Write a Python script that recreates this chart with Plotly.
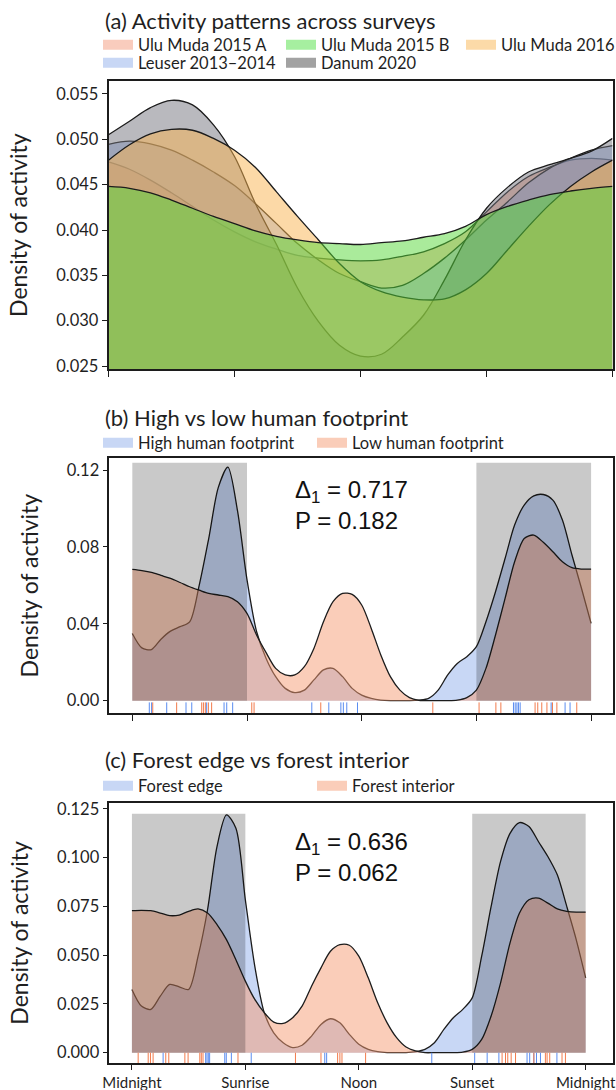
import plotly.graph_objects as go

# ---------------- data: panel (a) -----------------
HOURS_A = [0, 1, 2, 3, 4, 5, 6, 7, 8, 9, 10, 11, 12, 13, 14, 15, 16, 17, 18, 19, 20, 21, 22, 23, 24]
ULU_MUDA_2015_A = [0.0475, 0.0467, 0.0455, 0.0441, 0.0426, 0.0411, 0.0398, 0.0387, 0.0379, 0.0372, 0.0369, 0.0367,
                   0.0366, 0.0367, 0.0371, 0.0376, 0.0385, 0.0398, 0.0420, 0.0442, 0.0459, 0.0469, 0.0477, 0.0479, 0.0477]
ULU_MUDA_2015_B = [0.0448, 0.0446, 0.0441, 0.0433, 0.0424, 0.0415, 0.0407, 0.0399, 0.0393, 0.0389, 0.0386, 0.0385,
                   0.0384, 0.0386, 0.0388, 0.0392, 0.0396, 0.0404, 0.0417, 0.0426, 0.0433, 0.0439, 0.0443, 0.0446, 0.0448]
ULU_MUDA_2016 = [0.0477, 0.0494, 0.0506, 0.0511, 0.0510, 0.0501, 0.0488, 0.0469, 0.0442, 0.0415, 0.0389, 0.0363,
                 0.0343, 0.0332, 0.0326, 0.0323, 0.0324, 0.0334, 0.0352, 0.0378, 0.0404, 0.0428, 0.0448, 0.0464, 0.0477]
LEUSER = [0.04945, 0.0498, 0.0495, 0.0488, 0.0477, 0.0464, 0.0449, 0.0429, 0.0407, 0.0385, 0.0367, 0.0352,
          0.0343, 0.0336, 0.0339, 0.0352, 0.0369, 0.0389, 0.0411, 0.0431, 0.0452, 0.0468, 0.0479, 0.0488, 0.0493]
DANUM = [0.0505, 0.0520, 0.0535, 0.0543, 0.0538, 0.0516, 0.0481, 0.0429, 0.0384, 0.0336, 0.0299, 0.0273,
         0.0261, 0.0263, 0.0282, 0.0306, 0.0345, 0.0389, 0.0424, 0.0447, 0.0464, 0.0472, 0.0479, 0.0487, 0.0501]

# ---------------- data: panels (b) and (c) -----------------
HOURS_BC = [0, 0.5, 1, 1.5, 2, 2.5, 3, 3.5, 4, 4.5, 5, 5.5, 6, 6.5, 7, 7.5, 8, 8.5, 9, 9.5, 10, 10.5, 11, 11.5,
            12, 12.5, 13, 13.5, 14, 14.5, 15, 15.5, 16, 16.5, 17, 17.5, 18, 18.5, 19, 19.5, 20, 20.5, 21, 21.5,
            22, 22.5, 23, 23.5, 24]
HIGH_FOOTPRINT = [0.0350, 0.0275, 0.0266, 0.0320, 0.0362, 0.0385, 0.0410, 0.0600, 0.0845, 0.1110, 0.1215, 0.0990,
                  0.0630, 0.0360, 0.0220, 0.0125, 0.0064, 0.0042, 0.0055, 0.0108, 0.0160, 0.0168, 0.0125, 0.0064,
                  0.0029, 0.0012, 0.0003, 0.0000, 0.0000, 0.0000, 0.0003, 0.0012, 0.0055, 0.0134, 0.0194, 0.0229,
                  0.0281, 0.0411, 0.0567, 0.0740, 0.0914, 0.1018, 0.1066, 0.1073, 0.1044, 0.0940, 0.0758, 0.0584,
                  0.0402]
LOW_FOOTPRINT = [0.0683, 0.0677, 0.0668, 0.0652, 0.0636, 0.0615, 0.0593, 0.0575, 0.0558, 0.0550, 0.0541, 0.0515,
                 0.0454, 0.0342, 0.0250, 0.0168, 0.0134, 0.0134, 0.0177, 0.0272, 0.0411, 0.0515, 0.0558, 0.0553,
                 0.0498, 0.0376, 0.0238, 0.0125, 0.0055, 0.0016, 0.0002, 0.0000, 0.0000, 0.0000, 0.0003, 0.0016,
                 0.0055, 0.0168, 0.0342, 0.0532, 0.0723, 0.0844, 0.0862, 0.0824, 0.0775, 0.0723, 0.0692, 0.0685,
                 0.0685]
FOREST_EDGE = [0.0324, 0.0239, 0.0222, 0.0290, 0.0350, 0.0338, 0.0324, 0.0495, 0.0733, 0.1057, 0.1219, 0.1151,
               0.0784, 0.0443, 0.0205, 0.0102, 0.0051, 0.0026, 0.0038, 0.0085, 0.0145, 0.0174, 0.0153, 0.0094,
               0.0043, 0.0017, 0.0005, 0.0000, 0.0000, 0.0000, 0.0005, 0.0017, 0.0051, 0.0119, 0.0179, 0.0222,
               0.0281, 0.0495, 0.0750, 0.0981, 0.1125, 0.1180, 0.1160, 0.1083, 0.1006, 0.0912, 0.0750, 0.0580,
               0.0384]
FOREST_INTERIOR = [0.0728, 0.0730, 0.0728, 0.0716, 0.0703, 0.0706, 0.0725, 0.0737, 0.0716, 0.0657, 0.0580, 0.0477,
                   0.0367, 0.0273, 0.0205, 0.0157, 0.0150, 0.0179, 0.0239, 0.0341, 0.0435, 0.0520, 0.0554, 0.0551,
                   0.0495, 0.0384, 0.0256, 0.0153, 0.0077, 0.0029, 0.0009, 0.0000, 0.0000, 0.0000, 0.0000, 0.0003,
                   0.0017, 0.0068, 0.0188, 0.0358, 0.0563, 0.0716, 0.0784, 0.0793, 0.0767, 0.0737, 0.0725, 0.0721,
                   0.0721]

# detection times (rug), hours
RUG_HIGH = [0.89, 1.01, 1.80, 2.81, 3.11, 3.89, 4.80, 4.94, 5.25, 9.39, 10.28, 10.91, 11.04, 11.22, 11.78,
            19.94, 20.03, 20.12, 20.20, 20.29, 21.91, 22.64, 22.90]
RUG_LOW = [1.07, 2.32, 3.63, 3.72, 3.82, 3.98, 4.15, 6.25, 6.37, 9.86, 15.72, 18.14, 19.02, 19.28, 21.07, 21.21,
           21.42, 21.69, 21.98, 22.21, 23.25]
RUG_EDGE = [1.65, 3.90, 3.97, 4.04, 4.11, 4.91, 4.99, 5.26, 6.31, 10.20, 10.30, 15.86, 18.13, 18.79, 19.41,
            20.90, 21.04, 21.26, 21.40, 21.61, 22.48]
RUG_INTERIOR = [0.33, 0.86, 0.98, 1.12, 1.79, 1.95, 2.80, 2.97, 3.59, 3.67, 3.76, 5.61, 8.65, 10.00, 10.88, 11.00,
                11.11, 12.36, 19.58, 19.76, 19.88, 20.06, 20.29, 21.26, 21.87, 21.96, 22.10, 22.75, 22.93]

NIGHT_SPANS = [(0, 6), (18, 24)]
NIGHT_TOP_B = 0.1238
NIGHT_TOP_C = 0.1225
STATS_B = ("0.717", "0.182")
STATS_C = ("0.636", "0.062")
TIME_TICKS = [0, 6, 12, 18, 24]
TIME_LABELS = ["Midnight", "Sunrise", "Noon", "Sunset", "Midnight"]

FONT = "Lato"
TXT = "#1f1f1f"
LINE = "#1c1c1c"
W, H = 616, 1090


def py(p):
    return 1 - p / H


def px(p):
    return p / W


fig = go.Figure()
legend_boxes = {}   # legend id -> (swatch-left px, row-centre px)

# ---------------- panel (a) ----------------
series_a = [
    ("Ulu Muda 2015 A", ULU_MUDA_2015_A, "rgba(245,150,120,0.5)", "#f9ccbd", "legend", (108, 45)),
    ("Leuser 2013\u20132014", LEUSER, "rgba(145,175,235,0.5)", "#c8d7f5", "legend4", (108, 63)),
    ("Danum 2020", DANUM, "rgba(115,115,125,0.5)", "#a2a2a2", "legend5", (291, 63)),
    ("Ulu Muda 2016", ULU_MUDA_2016, "rgba(250,180,80,0.5)", "#fcdaa8", "legend3", (471, 45)),
    ("Ulu Muda 2015 B", ULU_MUDA_2015_B, "rgba(85,215,55,0.5)", "#a6efa0", "legend2", (291, 45)),
]
for name, vals, fc, sw, leg, pos in series_a:
    fig.add_trace(go.Scatter(x=HOURS_A, y=vals, mode="lines", fill="tozeroy", fillcolor=fc,
                             line=dict(color=LINE, width=1.3, shape="spline", smoothing=1.0),
                             showlegend=False, hoverinfo="skip", xaxis="x", yaxis="y"))
for name, vals, fc, sw, leg, pos in series_a:
    fig.add_trace(go.Scatter(x=[None], y=[None], mode="lines", name=name, legend=leg,
                             line=dict(color=sw, width=12), xaxis="x", yaxis="y"))
    legend_boxes[leg] = pos


def add_pair(xa, ya, s1, s2, rug1, rug2, night_top, rug_y):
    (n1, v1, leg1, pos1), (n2, v2, leg2, pos2) = s1, s2
    fig.add_trace(go.Scatter(x=HOURS_BC, y=v1, mode="lines", fill="tozeroy", fillcolor="rgba(145,175,235,0.5)",
                             line=dict(color=LINE, width=1.3, shape="spline", smoothing=0.8),
                             showlegend=False, hoverinfo="skip", xaxis=xa, yaxis=ya))
    fig.add_trace(go.Scatter(x=HOURS_BC, y=v2, mode="lines", fill="tozeroy", fillcolor="rgba(245,155,115,0.5)",
                             line=dict(color=LINE, width=1.3, shape="spline", smoothing=0.8),
                             showlegend=False, hoverinfo="skip", xaxis=xa, yaxis=ya))
    for a, b in NIGHT_SPANS:
        fig.add_trace(go.Scatter(x=[a, b, b, a, a], y=[0, 0, night_top, night_top, 0], mode="lines",
                                 fill="toself", fillcolor="rgba(0,0,0,0.21)", line=dict(width=0),
                                 showlegend=False, hoverinfo="skip", xaxis=xa, yaxis=ya))
    fig.add_trace(go.Scatter(x=rug1, y=[rug_y] * len(rug1), mode="markers", showlegend=False, hoverinfo="skip",
                             marker=dict(symbol="line-ns", size=8, line=dict(width=1.0, color="#5a8cf0")),
                             xaxis=xa, yaxis=ya))
    fig.add_trace(go.Scatter(x=rug2, y=[rug_y] * len(rug2), mode="markers", showlegend=False, hoverinfo="skip",
                             marker=dict(symbol="line-ns", size=8, line=dict(width=1.0, color="#f27b4c")),
                             xaxis=xa, yaxis=ya))
    fig.add_trace(go.Scatter(x=[None], y=[None], mode="lines", name=n1, legend=leg1,
                             line=dict(color="#c8d7f5", width=12), xaxis=xa, yaxis=ya))
    fig.add_trace(go.Scatter(x=[None], y=[None], mode="lines", name=n2, legend=leg2,
                             line=dict(color="#facdb9", width=12), xaxis=xa, yaxis=ya))
    legend_boxes[leg1] = pos1
    legend_boxes[leg2] = pos2


add_pair("x2", "y2", ("High human footprint", HIGH_FOOTPRINT, "legend6", (108, 443)),
         ("Low human footprint", LOW_FOOTPRINT, "legend7", (322, 443)),
         RUG_HIGH, RUG_LOW, NIGHT_TOP_B, -0.0038)
add_pair("x3", "y3", ("Forest edge", FOREST_EDGE, "legend8", (108, 786)),
         ("Forest interior", FOREST_INTERIOR, "legend9", (322, 786)),
         RUG_EDGE, RUG_INTERIOR, NIGHT_TOP_C, -0.0029)

axis_common = dict(showline=True, mirror=True, linecolor=LINE, linewidth=1.5, ticks="outside",
                   tickcolor=LINE, showgrid=False, zeroline=False, automargin=False,
                   tickfont=dict(family=FONT, size=16.5, color=TXT))
ytitle = dict(text="Density of activity", font=dict(family=FONT, size=23, color=TXT), standoff=22)

layout = dict(
    width=W, height=H, margin=dict(l=0, r=0, t=0, b=0, autoexpand=False), paper_bgcolor="white",
    plot_bgcolor="white", font=dict(family=FONT, color=TXT),
    xaxis=dict(domain=[px(108.5), px(612.5)], range=[0, 24], anchor="y", tickvals=TIME_TICKS,
               showticklabels=False, ticklen=6, **axis_common),
    yaxis=dict(domain=[py(369.3), py(81)], range=[0.02464, 0.05643], anchor="x",
               tickvals=[0.025, 0.030, 0.035, 0.040, 0.045, 0.050, 0.055], tickformat=".3f", ticklen=5,
               title=ytitle, **axis_common),
    xaxis2=dict(domain=[px(109.3), px(612.5)], range=[-1.203, 25.12], anchor="y2", tickvals=TIME_TICKS,
                showticklabels=False, ticklen=6, **axis_common),
    yaxis2=dict(domain=[py(713.3), py(458)], range=[-0.00657, 0.1263], anchor="x2",
                tickvals=[0, 0.04, 0.08, 0.12], tickformat=".2f", ticklen=5, title=ytitle, **axis_common),
    xaxis3=dict(domain=[px(109.3), px(612.5)], range=[-1.197, 25.42], anchor="y3", tickvals=TIME_TICKS,
                ticktext=TIME_LABELS, ticklen=5, **axis_common),
    yaxis3=dict(domain=[py(1063), py(802.7)], range=[-0.0053, 0.1282], anchor="x3",
                tickvals=[0, 0.025, 0.05, 0.075, 0.1, 0.125], tickformat=".3f", ticklen=5, title=ytitle,
                **axis_common),
)
layout["xaxis3"]["tickfont"] = dict(family=FONT, size=15, color=TXT)
for leg, (sx, sy) in legend_boxes.items():
    layout[leg] = dict(orientation="v", x=px(sx - 10), xanchor="left", y=py(sy), yanchor="middle",
                       itemwidth=30, font=dict(family=FONT, size=16.5, color=TXT), bgcolor="rgba(0,0,0,0)",
                       borderwidth=0)
fig.update_layout(**layout)

titles = [("(a) Activity patterns across surveys", 20), ("(b) High vs low human footprint", 418),
          ("(c) Forest edge vs forest interior", 759)]
for text, yc in titles:
    fig.add_annotation(text=text, xref="paper", yref="paper", x=px(103), y=py(yc), xanchor="left",
                       yanchor="middle", showarrow=False, font=dict(family=FONT, size=22, color=TXT))

for (d, p), yc in [(STATS_B, 505), (STATS_C, 857)]:
    fig.add_annotation(text=f"\u0394<sub>1</sub> = {d}<br>P = {p}", xref="paper", yref="paper", x=px(293),
                       y=py(yc), xanchor="left", yanchor="middle", align="left", showarrow=False,
                       font=dict(family="Liberation Sans", size=24, color="#111111"))

fig.write_html("out.html", config={"displayModeBar": False},
               post_script="document.body.style.margin='0';document.body.style.padding='0';")
